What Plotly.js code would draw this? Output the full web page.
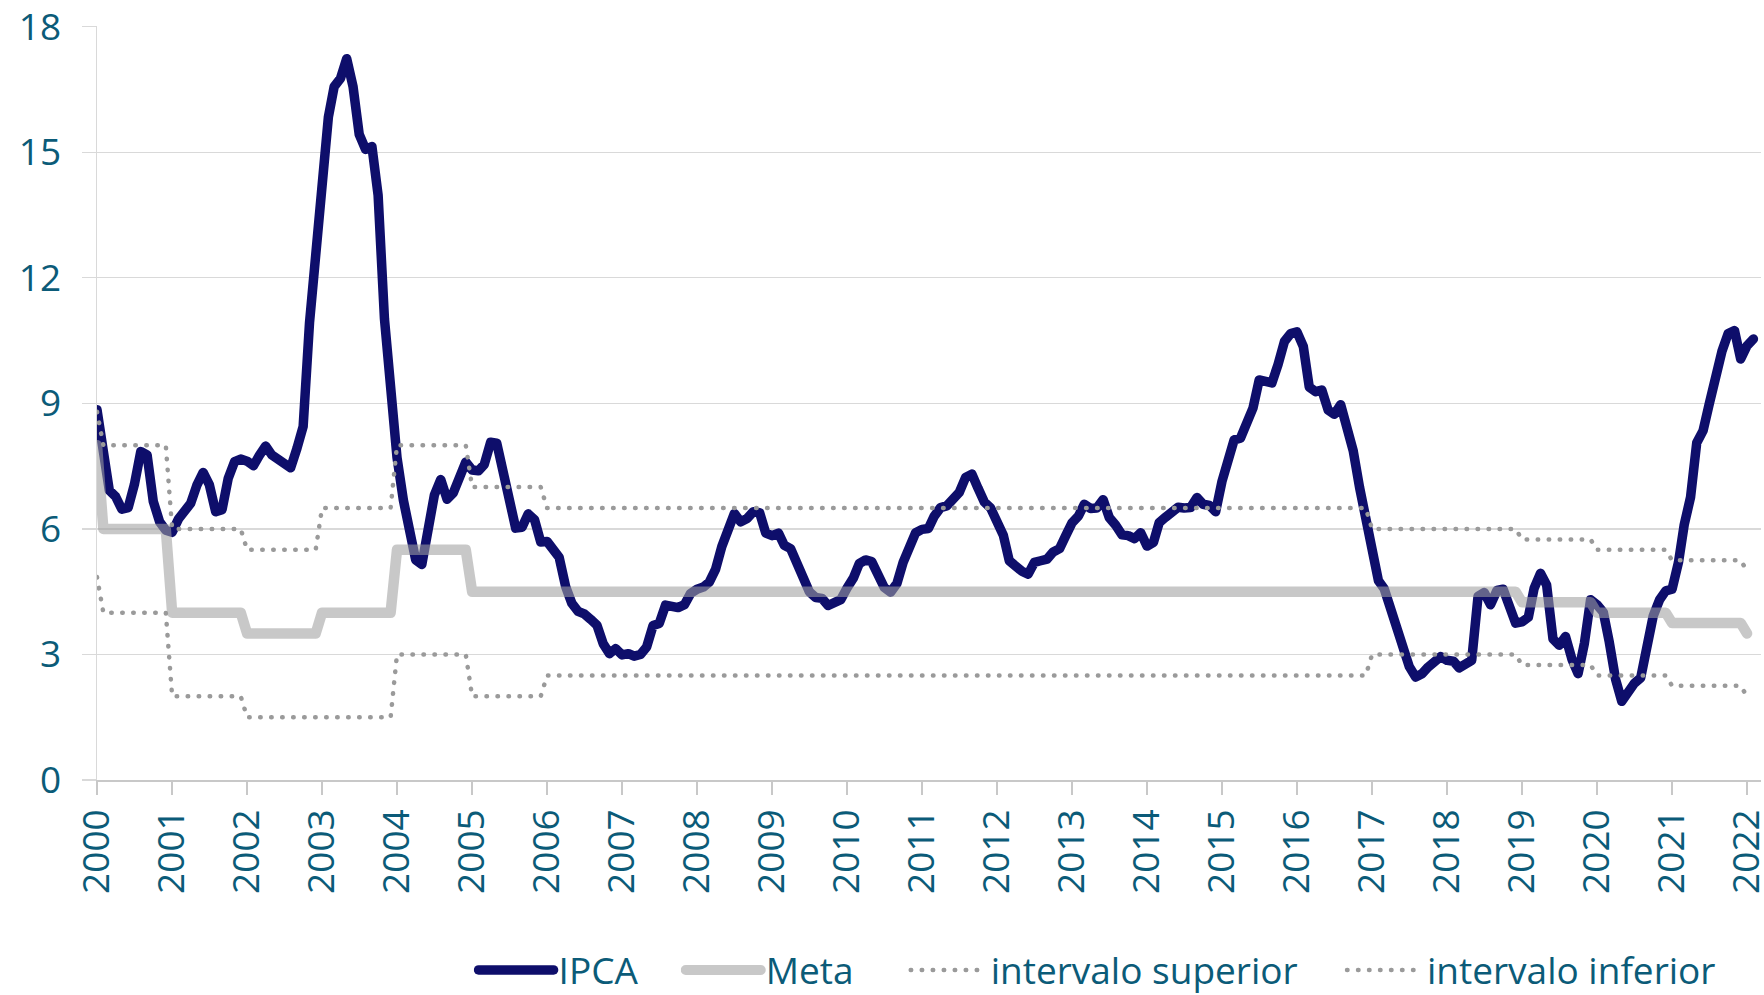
<!DOCTYPE html>
<html>
<head>
<meta charset="utf-8">
<script src="https://cdn.plot.ly/plotly-3.0.1.min.js"></script>
<style>
html,body{margin:0;padding:0;background:#fff;}
#chart{width:1764px;height:995px;}
path.js-line{stroke-linejoin:round !important;stroke-linecap:round !important;}
</style>
</head>
<body>
<div id="chart"></div>
<script>
// IPCA, 12-month accumulated (%), monthly from Jan 2000 to Feb 2022
const ipca = [
  8.85,7.86,6.92,6.77,6.47,6.51,7.06,7.85,7.77,6.66,6.17,5.97,
  5.92,6.24,6.41,6.61,7.04,7.35,7.06,6.41,6.46,7.21,7.61,7.67,
  7.62,7.51,7.75,7.98,7.77,7.66,7.51,7.46,7.93,8.45,10.93,12.53,
  14.47,15.85,16.57,16.77,17.24,16.57,15.43,15.07,15.14,13.98,11.02,9.30,
  7.71,6.69,5.89,5.26,5.15,6.06,6.81,7.18,6.71,6.86,7.24,7.60,
  7.41,7.39,7.54,8.07,8.05,7.27,6.57,6.02,6.04,6.36,6.22,5.69,
  5.70,5.51,5.32,4.63,4.23,4.03,3.97,3.84,3.70,3.26,3.02,3.14,
  2.99,3.02,2.96,3.00,3.18,3.69,3.74,4.18,4.15,4.12,4.19,4.46,
  4.56,4.61,4.73,5.04,5.58,6.06,6.37,6.17,6.25,6.41,6.39,5.90,
  5.84,5.90,5.61,5.53,5.20,4.80,4.50,4.36,4.34,4.17,4.22,4.31,
  4.59,4.83,5.17,5.26,5.22,4.84,4.60,4.49,4.70,5.20,5.63,5.91,
  5.99,6.01,6.30,6.51,6.55,6.71,6.87,7.23,7.31,6.97,6.64,6.50,
  6.22,5.85,5.24,5.10,4.99,4.92,5.20,5.24,5.28,5.45,5.53,5.84,
  6.15,6.31,6.59,6.49,6.50,6.70,6.27,6.09,5.86,5.84,5.77,5.91,
  5.59,5.68,6.15,6.28,6.37,6.52,6.50,6.51,6.75,6.59,6.56,6.41,
  7.14,7.70,8.13,8.17,8.47,8.89,9.56,9.53,9.49,9.93,10.48,10.67,
  10.71,10.36,9.39,9.28,9.32,8.84,8.74,8.97,8.48,7.87,6.99,6.29,
  5.35,4.76,4.57,4.08,3.60,3.00,2.71,2.46,2.54,2.70,2.80,2.95,
  2.86,2.84,2.68,2.76,2.86,4.39,4.48,4.19,4.53,4.56,4.05,3.75,
  3.78,3.89,4.58,4.94,4.66,3.37,3.22,3.43,2.89,2.54,3.27,4.31,
  4.19,4.01,3.30,2.40,1.88,2.13,2.31,2.44,3.14,3.92,4.31,4.52,
  4.56,5.20,6.10,6.76,8.06,8.35,8.99,9.68,10.25,10.67,10.74,10.06,
  10.38,10.54
];

// Inflation target (Meta) and tolerance band, by calendar year 2000..2022
const years      = [2000,2001,2002,2003,2004,2005,2006,2007,2008,2009,2010,2011,2012,2013,2014,2015,2016,2017,2018,2019,2020,2021,2022];
const metaYear   = [6,   4,   3.5, 4,   5.5, 4.5, 4.5, 4.5, 4.5, 4.5, 4.5, 4.5, 4.5, 4.5, 4.5, 4.5, 4.5, 4.5, 4.5, 4.25,4,   3.75,3.5];
const superYear  = [8,   6,   5.5, 6.5, 8,   7,   6.5, 6.5, 6.5, 6.5, 6.5, 6.5, 6.5, 6.5, 6.5, 6.5, 6.5, 6,   6,   5.75,5.5, 5.25,5];
const inferYear  = [4,   2,   1.5, 1.5, 3,   2,   2.5, 2.5, 2.5, 2.5, 2.5, 2.5, 2.5, 2.5, 2.5, 2.5, 2.5, 3,   3,   2.75,2.5, 2.25,2];
const metaFirst = 8.0, superFirst = 8.8, inferFirst = 4.85;
const bandMonthsIn2022 = 1;

// month labels
const months = [];
for (let i = 0; i < ipca.length; i++) {
  const y = 2000 + Math.floor(i / 12), m = (i % 12) + 1;
  months.push(y + '-' + String(m).padStart(2, '0') + '-01');
}
function expand(yearVals, first) {
  const out = [];
  years.forEach((y, k) => {
    const n = (y === 2022) ? bandMonthsIn2022 : 12;
    for (let j = 0; j < n; j++) out.push(yearVals[k]);
  });
  out[0] = first;
  return out;
}
const meta = expand(metaYear, metaFirst);
const superior = expand(superYear, superFirst);
const inferior = expand(inferYear, inferFirst);

const txt = '#0b5b78';
const fontFam = '"Open Sans", "Noto Sans", sans-serif';
const legFont = {family: fontFam, size: 37, color: txt};

const traces = [
  {x: months, y: ipca, name: 'IPCA', type: 'scatter', mode: 'lines',
   line: {color: '#0e0e6b', width: 9.5}, legend: 'legend'},
  {x: months.slice(0, meta.length), y: meta, name: 'Meta', type: 'scatter', mode: 'lines',
   line: {color: 'rgba(160,160,160,0.58)', width: 10.5}, legend: 'legend2'},
  {x: months.slice(0, superior.length), y: superior, name: 'intervalo superior', type: 'scatter', mode: 'lines',
   line: {color: '#9a9a9a', width: 4.5, dash: '0.5px,10.5px'}, legend: 'legend3'},
  {x: months.slice(0, inferior.length), y: inferior, name: 'intervalo inferior', type: 'scatter', mode: 'lines',
   line: {color: '#9a9a9a', width: 4.5, dash: '0.5px,10.5px'}, legend: 'legend4'}
];

function leg(x) {
  return {orientation: 'h', x: x, xanchor: 'left', y: -0.2525, yanchor: 'middle',
          font: legFont, itemwidth: 75, bgcolor: 'rgba(0,0,0,0)', borderwidth: 0};
}

const layout = {
  width: 1764, height: 995,
  margin: {l: 97, r: 3, t: 26, b: 215, autoexpand: false},
  paper_bgcolor: '#ffffff', plot_bgcolor: '#ffffff',
  showlegend: true,
  font: {family: fontFam, color: txt, size: 36},
  xaxis: {
    type: 'date', range: ['2000-01-01', '2022-03-10'],
    tick0: '2000-01-01', dtick: 'M12', tickformat: '%Y', tickangle: -90,
    showgrid: false, zeroline: false,
    showline: true, linecolor: '#c8c8c8', linewidth: 1.5,
    ticks: 'outside', ticklen: 13, tickcolor: '#c8c8c8', tickwidth: 1.5,
    tickfont: {family: fontFam, size: 37, color: txt}, ticklabelstandoff: 0,
    ticklabeloverflow: 'allow', automargin: false,
    fixedrange: true
  },
  yaxis: {
    range: [0, 18.02], tick0: 0, dtick: 3,
    showgrid: true, gridcolor: '#d9d9d9', gridwidth: 1.2, zeroline: false,
    showline: true, linecolor: '#d9d9d9', linewidth: 1.5,
    ticks: 'outside', ticklen: 14, tickcolor: '#d9d9d9', tickwidth: 1.2,
    tickfont: {family: fontFam, size: 37, color: txt}, ticklabelstandoff: 13,
    ticklabeloverflow: 'allow', automargin: false,
    fixedrange: true
  },
  legend: leg(0.2263),
  legend2: leg(0.3508),
  legend3: leg(0.4860),
  legend4: leg(0.7482)
};

Plotly.newPlot('chart', traces, layout, {displayModeBar: false, staticPlot: true});
</script>
</body>
</html>
